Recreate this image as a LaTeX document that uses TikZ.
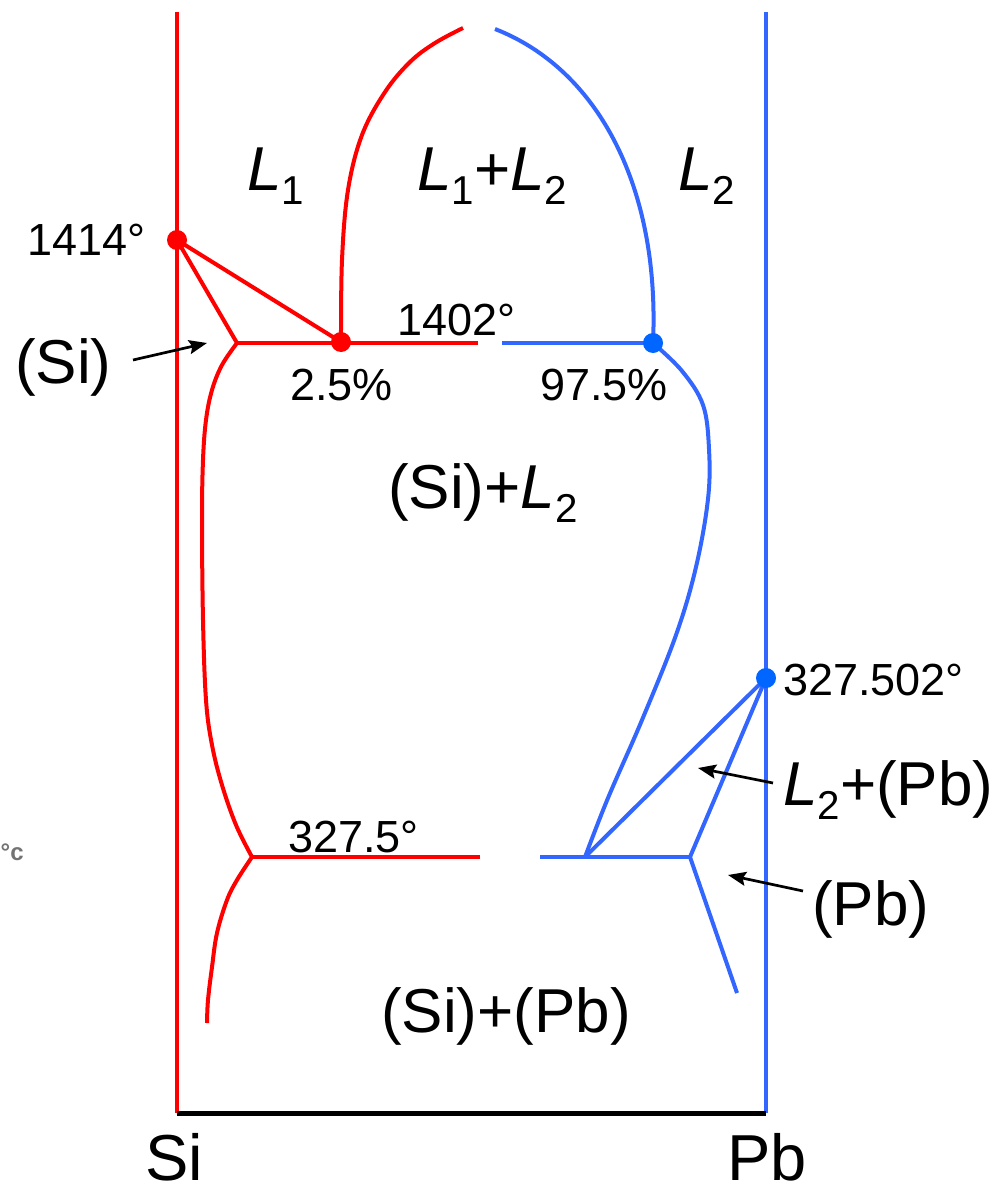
\documentclass[tikz,border=0pt]{standalone}
\usepackage{fontspec}
\setmainfont{Liberation Sans}
\usetikzlibrary{arrows.meta}
\definecolor{pdred}{RGB}{255,0,0}
\definecolor{pdblue}{RGB}{51,102,255}
\definecolor{dotblue}{RGB}{0,102,255}
\newcommand{\Lsub}[1]{\textit{L}\raisebox{-0.24em}{\scalebox{0.65}{#1}}}
\begin{document}
\begin{tikzpicture}[x=1pt,y=-1pt,
  redline/.style={draw=pdred,line width=4pt},
  blueline/.style={draw=pdblue,line width=4pt},
  axisline/.style={draw=black,line width=5pt},
  big/.style={font=\fontsize{62}{70}\selectfont,inner sep=0pt,anchor=base west},
  axislabel/.style={font=\fontsize{65}{70}\selectfont,inner sep=0pt,anchor=base west,text depth=0pt},
  small/.style={font=\fontsize{45}{50}\selectfont,inner sep=0pt,anchor=base west},
  pointer/.style={draw=black,line width=2.7pt,-{Stealth[length=18pt,width=14pt,inset=3pt]}},
  reddot/.style={fill=pdred},
  bluedot/.style={fill=dotblue}]
\useasboundingbox (0,0) rectangle (1001,1188);

% key coordinates
\coordinate (SiTop) at (177,12);
\coordinate (SiBot) at (177,1113);
\coordinate (PbTop) at (766,12);
\coordinate (PbBot) at (766,1113);
\coordinate (SiMelt) at (177,240);
\coordinate (Mono1) at (341,342);
\coordinate (SolSi) at (237,343);
\coordinate (MonoEndR) at (478,343);
\coordinate (MonoStartB) at (502,343);
\coordinate (Mono2) at (653,343);
\coordinate (EutSi) at (252,857);
\coordinate (EutEndR) at (480,857);
\coordinate (EutStartB) at (540,857);
\coordinate (EutL) at (585,857);
\coordinate (EutPb) at (690,857);
\coordinate (PbMelt) at (766,678);
\coordinate (PbSolEnd) at (737,993);
\coordinate (TopB) at (495,29);

% frame
\draw[redline] (SiTop) -- (SiBot);
\draw[blueline] (PbTop) -- (PbBot);
\draw[axisline] (SiBot) -- (PbBot);

% red (Si side) lines
\draw[redline] (SiMelt) -- (Mono1);
\draw[redline] (SiMelt) -- (SolSi);
\draw[redline] (SolSi) -- (MonoEndR);
\draw[redline] plot[smooth,tension=0.6] coordinates {(341,342) (342,260) (348,190) (362,135) (385,92) (410,62) (435,43) (463,28)};
\draw[redline] plot[smooth,tension=0.6] coordinates {(237,343) (222,365) (212,390) (206,420) (203,460) (202,520) (203,620) (206,700) (212,745) (222,785) (236,825) (252,857)};
\draw[redline] (EutSi) -- (EutEndR);
\draw[redline] plot[smooth,tension=0.6] coordinates {(252,857) (237,880) (227,900) (217,933) (212,967) (208,1000) (207,1023)};

% blue (Pb side) lines
\draw[blueline] (TopB) .. controls (600,70) and (660,190) .. (Mono2);
\draw[blueline] (MonoStartB) -- (Mono2);
\draw[blueline] plot[smooth,tension=0.6] coordinates {(653,343) (682,371) (703,405) (709,449) (708,499) (696,567) (676,635) (642,720) (608,798) (585,857)};
\draw[blueline] (EutStartB) -- (EutPb);
\draw[blueline] (EutL) -- (PbMelt);
\draw[blueline] (EutPb) -- (PbMelt);
\draw[blueline] (EutPb) -- (PbSolEnd);

% dots
\fill[reddot] (SiMelt) circle (10pt);
\fill[reddot] (Mono1) circle (10pt);
\fill[bluedot] (Mono2) circle (10pt);
\fill[bluedot] (PbMelt) circle (10pt);

% region labels
\node[big] (lL1) at (247,190) {\Lsub{1}};
\node[big] (lL12) at (417,190) {\Lsub{1}+\Lsub{2}};
\node[big] (lL2) at (678,190) {\Lsub{2}};
\node[big] (lSiL2) at (388,508) {(Si)+\Lsub{2}};
\node[big] (lSiPb) at (381,1032) {(Si)+(Pb)};
\node[big] (lSi) at (15,383) {(Si)};
\node[big] (lL2Pb) at (783,805) {\Lsub{2}+(Pb)};
\node[big] (lPb) at (812,925) {(Pb)};
\node[axislabel] (axSi) at (145,1180) {Si};
\node[axislabel] (axPb) at (727,1180) {Pb};

% numeric labels
\node[small] (t1414) at (27,255) {1414°};
\node[small] (t1402) at (397,335) {1402°};
\node[small] (c25) at (290,400) {2.5\%};
\node[small] (c975) at (540,400) {97.5\%};
\node[small] (t3275) at (288,852) {327.5°};
\node[small] (t327502) at (783,695) {327.502°};

% faint fragment at left edge
\node[font=\bfseries\fontsize{24}{26}\selectfont,text=black!55,inner sep=0pt,anchor=base west] (frag) at (0.5,860) {°c};

% pointer arrows
\coordinate (aSi) at (207,343);
\coordinate (aL2Pb) at (698,768);
\coordinate (aPb) at (728,875);
\draw[pointer] (133,360) -- (aSi);
\draw[pointer] (773,783) -- (aL2Pb);
\draw[pointer] (803,891) -- (aPb);
\end{tikzpicture}
\end{document}
